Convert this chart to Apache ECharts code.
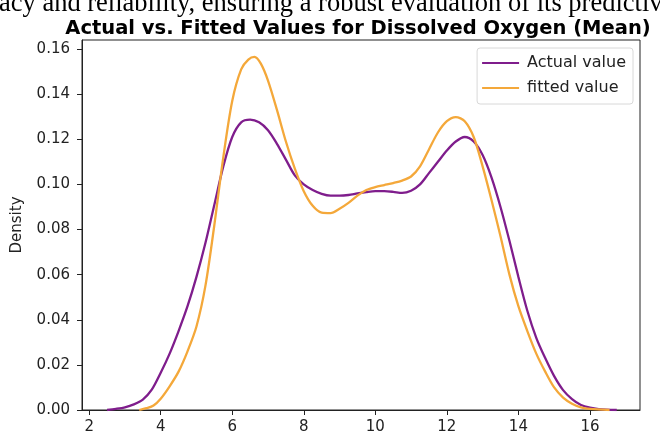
<!DOCTYPE html>
<html>
<head>
<meta charset="utf-8">
<script src="https://cdn.jsdelivr.net/npm/echarts@6/dist/echarts.min.js"></script>
<style>html,body{margin:0;padding:0;background:#fff}#c{width:660px;height:436px}</style>
</head>
<body>
<div id="c"></div>
<script>
const titleText = 'Actual vs. Fitted Values for Dissolved Oxygen (Mean)';
const topLineText = 'acy and reliability, ensuring a robust evaluation of its predictive';
const seriesNames = ['Actual value', 'fitted value'];
const xTicks = [2, 4, 6, 8, 10, 12, 14, 16];
const yTicks = [0, 0.02, 0.04, 0.06, 0.08, 0.10, 0.12, 0.14, 0.16];

const actualX = [2.5, 2.75, 3.0, 3.25, 3.5, 3.75, 4.0, 4.25, 4.5, 4.75, 5.0, 5.25, 5.5, 5.75, 6.0, 6.25, 6.5, 6.75, 7.0, 7.25, 7.5, 7.75, 8.0, 8.25, 8.5, 8.75, 9.0, 9.25, 9.5, 9.75, 10.0, 10.25, 10.5, 10.75, 11.0, 11.25, 11.5, 11.75, 12.0, 12.25, 12.5, 12.75, 13.0, 13.25, 13.5, 13.75, 14.0, 14.25, 14.5, 14.75, 15.0, 15.25, 15.5, 15.75, 16.0, 16.25, 16.75];
const actualY = [0, 0.0005, 0.0012, 0.0025, 0.0046, 0.009, 0.0165, 0.025, 0.035, 0.046, 0.059, 0.074, 0.091, 0.108, 0.121, 0.1275, 0.1287, 0.1275, 0.124, 0.118, 0.111, 0.104, 0.100, 0.0975, 0.0958, 0.095, 0.095, 0.0953, 0.096, 0.0966, 0.097, 0.097, 0.0967, 0.0962, 0.0972, 0.100, 0.105, 0.110, 0.115, 0.119, 0.121, 0.119, 0.113, 0.103, 0.090, 0.075, 0.059, 0.044, 0.032, 0.023, 0.015, 0.0088, 0.0048, 0.0022, 0.0010, 0.0004, 0];

const fittedX = [3.4, 3.6, 3.8, 4.0, 4.25, 4.5, 4.75, 5.0, 5.25, 5.5, 5.75, 6.0, 6.25, 6.45, 6.62, 6.8, 7.0, 7.25, 7.5, 7.75, 8.0, 8.25, 8.5, 8.75, 9.0, 9.25, 9.5, 9.75, 10.0, 10.25, 10.5, 10.75, 11.0, 11.25, 11.5, 11.75, 12.0, 12.25, 12.5, 12.75, 13.0, 13.25, 13.5, 13.75, 14.0, 14.25, 14.5, 14.75, 15.0, 15.25, 15.5, 15.75, 16.0, 16.55];
const fittedY = [0, 0.0008, 0.002, 0.005, 0.0105, 0.017, 0.026, 0.037, 0.055, 0.082, 0.112, 0.137, 0.151, 0.1553, 0.1565, 0.1535, 0.146, 0.133, 0.119, 0.107, 0.097, 0.0905, 0.0875, 0.0873, 0.0892, 0.0918, 0.095, 0.0975, 0.0988, 0.0997, 0.1006, 0.1017, 0.1035, 0.108, 0.1155, 0.123, 0.128, 0.1298, 0.128, 0.121, 0.108, 0.093, 0.077, 0.060, 0.046, 0.035, 0.025, 0.017, 0.010, 0.0055, 0.0028, 0.0012, 0.0005, 0];

const pair = (xs, ys) => xs.map((x, i) => [x, ys[i]]);
const chart = echarts.init(document.getElementById('c'), null, {renderer: 'canvas'});
const tickFont = {fontFamily: 'DejaVu Sans', fontSize: 15, color: '#222'};
chart.setOption({
  animation: false,
  backgroundColor: '#fff',
  title: {
    text: titleText, left: 353, top: 14, textAlign: 'center',
    textStyle: {fontFamily: 'DejaVu Sans', fontWeight: 'bold', fontSize: 19.5, color: '#000'}
  },
  graphic: [{
    type: 'text', x: -1, y: 4,
    style: {text: topLineText, font: '26.5px "Liberation Serif"', fill: '#000', verticalAlign: 'middle'}
  }],
  legend: {
    right: 27, top: 48, orient: 'vertical', itemGap: 9, itemWidth: 37, itemHeight: 14,
    padding: [7, 7, 8, 5], borderColor: '#d8d8d8', borderWidth: 1, borderRadius: 3,
    icon: 'path://M0,0L37,0L37,2.2L0,2.2Z',
    textStyle: {fontFamily: 'DejaVu Sans', fontSize: 16, color: '#222', padding: [0, 0, 0, 3]},
    data: seriesNames
  },
  grid: {left: 82, right: 20, top: 40, bottom: 26, show: true, borderColor: '#222', borderWidth: 1},
  xAxis: {
    type: 'value', min: 1.8, max: 17.4,
    axisLine: {show: true, onZero: false, lineStyle: {color: '#222'}},
    axisTick: {show: true, length: 5, customValues: xTicks, lineStyle: {color: '#222'}},
    axisLabel: Object.assign({customValues: xTicks, margin: 10}, tickFont),
    splitLine: {show: false}
  },
  yAxis: {
    type: 'value', min: 0, max: 0.164,
    name: 'Density', nameLocation: 'middle', nameGap: 57, nameRotate: 90,
    nameTextStyle: {fontFamily: 'DejaVu Sans', fontSize: 15, color: '#222'},
    axisLine: {show: true, lineStyle: {color: '#222'}},
    axisTick: {show: true, length: 5, customValues: yTicks, lineStyle: {color: '#222'}},
    axisLabel: Object.assign({customValues: yTicks, margin: 12, formatter: v => v.toFixed(2)}, tickFont),
    splitLine: {show: false}
  },
  series: [
    {name: seriesNames[0], type: 'line', data: pair(actualX, actualY), smooth: 0.3, symbol: 'none', lineStyle: {color: '#7f1d8c', width: 2.3}, itemStyle: {color: '#7f1d8c'}},
    {name: seriesNames[1], type: 'line', data: pair(fittedX, fittedY), smooth: 0.3, symbol: 'none', lineStyle: {color: '#f4a83a', width: 2.3}, itemStyle: {color: '#f4a83a'}}
  ]
});
</script>
</body>
</html>
